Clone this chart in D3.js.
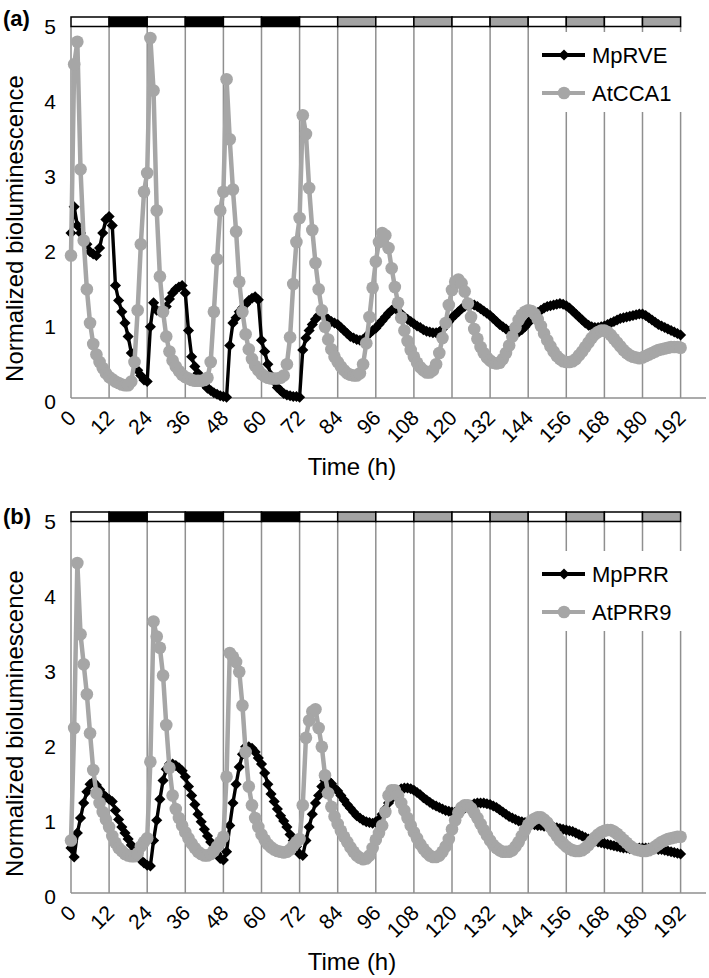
<!DOCTYPE html>
<html><head><meta charset="utf-8">
<script src="https://cdn.jsdelivr.net/npm/d3@7"></script>
<style>body{margin:0;background:#fff}svg{display:block;font-family:"Liberation Sans",Arial,Helvetica,sans-serif}</style>
</head><body>
<svg id="c" width="709" height="978"></svg>
<script>
// ---- data ----
const hours = d3.range(0, 193, 1);
const xTickValues = [0,12,24,36,48,60,72,84,96,108,120,132,144,156,168,180,192];
const yTickValues = [0,1,2,3,4,5];
const lightStarts = [0,12,24,36,48,60,72,84,96,108,120,132,144,156,168,180];
const lightKinds  = ["light","dark","light","dark","light","dark","light","subj","light","subj","light","subj","light","subj","light","subj"];

const mpRVE = [
2.20,2.55,2.30,2.20,2.10,2.05,1.95,1.92,1.90,2.00,2.20,2.38,2.42,2.30,1.50,1.30,1.15,1.00,0.82,0.60,
0.45,0.37,0.30,0.24,0.22,0.95,1.27,1.17,1.15,1.18,1.22,1.32,1.40,1.45,1.48,1.50,1.40,0.90,0.55,0.42,
0.33,0.24,0.18,0.13,0.10,0.07,0.05,0.03,0.02,0.01,0.70,1.00,1.07,1.15,1.20,1.25,1.30,1.33,1.35,1.31,
0.77,0.62,0.45,0.30,0.22,0.14,0.10,0.06,0.04,0.03,0.02,0.02,0.01,0.64,0.80,0.90,0.98,1.05,1.10,1.12,
1.08,1.05,1.02,1.00,0.98,0.94,0.90,0.86,0.82,0.80,0.78,0.77,0.78,0.82,0.86,0.90,0.93,0.98,1.03,1.08,
1.13,1.17,1.20,1.16,1.12,1.08,1.05,1.02,0.99,0.96,0.94,0.91,0.89,0.88,0.87,0.87,0.88,0.92,0.97,1.02,
1.07,1.11,1.15,1.19,1.22,1.24,1.25,1.24,1.22,1.19,1.16,1.13,1.10,1.06,1.02,0.98,0.95,0.92,0.89,0.87,
0.87,0.88,0.91,0.95,1.00,1.05,1.10,1.14,1.17,1.20,1.22,1.23,1.24,1.25,1.26,1.25,1.23,1.20,1.16,1.12,
1.08,1.04,1.00,0.97,0.95,0.94,0.94,0.95,0.96,0.98,1.00,1.02,1.04,1.06,1.07,1.08,1.09,1.10,1.11,1.12,
1.12,1.10,1.07,1.04,1.01,0.98,0.96,0.94,0.92,0.90,0.88,0.86,0.84];

const atCCA1 = [
1.90,4.45,4.75,3.05,2.10,1.45,1.00,0.72,0.58,0.48,0.40,0.33,0.28,0.25,0.22,0.20,0.18,0.17,0.17,0.22,
0.48,1.17,2.05,2.75,3.00,4.80,4.10,2.50,1.62,1.15,0.82,0.62,0.50,0.42,0.36,0.31,0.28,0.26,0.24,0.23,
0.23,0.23,0.24,0.27,0.48,1.15,1.85,2.50,2.75,4.25,3.45,2.78,2.22,1.55,1.15,0.85,0.65,0.52,0.43,0.37,
0.32,0.29,0.27,0.26,0.26,0.26,0.27,0.30,0.45,0.81,1.52,2.08,2.40,3.77,3.52,2.80,2.24,1.80,1.45,1.17,
0.95,0.78,0.65,0.55,0.48,0.42,0.37,0.33,0.31,0.30,0.30,0.33,0.45,0.73,1.08,1.47,1.82,2.08,2.20,2.17,
2.00,1.73,1.48,1.27,1.07,0.90,0.76,0.64,0.55,0.47,0.41,0.37,0.34,0.34,0.37,0.45,0.60,0.80,1.00,1.24,
1.44,1.55,1.58,1.53,1.42,1.26,1.08,0.92,0.79,0.68,0.60,0.54,0.50,0.47,0.46,0.47,0.52,0.60,0.70,0.82,
0.94,1.04,1.11,1.15,1.17,1.16,1.12,1.05,0.96,0.86,0.77,0.69,0.62,0.56,0.52,0.49,0.48,0.48,0.49,0.52,
0.57,0.62,0.68,0.74,0.80,0.85,0.88,0.90,0.90,0.88,0.84,0.79,0.74,0.69,0.64,0.60,0.57,0.55,0.54,0.53,
0.54,0.56,0.58,0.60,0.62,0.64,0.65,0.66,0.67,0.68,0.68,0.68,0.67];

const mpPRR = [
0.60,0.48,0.80,1.00,1.20,1.35,1.45,1.48,1.44,1.38,1.32,1.28,1.25,1.22,1.10,0.98,0.88,0.80,0.72,0.64,
0.57,0.50,0.44,0.40,0.37,0.36,0.70,0.97,1.25,1.50,1.65,1.72,1.72,1.70,1.67,1.63,1.55,1.42,1.30,1.18,
1.05,0.95,0.85,0.76,0.68,0.60,0.52,0.46,0.44,0.55,0.90,1.20,1.45,1.68,1.85,1.95,1.95,1.93,1.88,1.80,
1.72,1.60,1.45,1.32,1.22,1.12,1.03,0.96,0.88,0.78,0.70,0.62,0.52,0.50,0.70,0.88,1.05,1.20,1.30,1.42,
1.50,1.50,1.46,1.40,1.36,1.30,1.24,1.18,1.13,1.08,1.03,1.00,0.97,0.95,0.94,0.93,0.95,0.98,1.05,1.12,
1.20,1.26,1.32,1.36,1.39,1.40,1.40,1.39,1.37,1.34,1.31,1.27,1.24,1.21,1.18,1.16,1.14,1.12,1.10,1.09,
1.08,1.08,1.09,1.11,1.13,1.15,1.17,1.19,1.20,1.20,1.20,1.19,1.18,1.16,1.14,1.11,1.08,1.05,1.02,1.00,
0.98,0.96,0.95,0.94,0.93,0.92,0.91,0.90,0.90,0.89,0.89,0.88,0.88,0.87,0.86,0.85,0.84,0.83,0.82,0.80,
0.78,0.76,0.74,0.72,0.70,0.69,0.68,0.67,0.66,0.65,0.64,0.63,0.62,0.61,0.60,0.60,0.59,0.59,0.59,0.60,
0.60,0.60,0.60,0.60,0.59,0.58,0.58,0.57,0.56,0.55,0.54,0.53,0.52];

const atPRR9 = [
0.70,2.20,4.40,3.45,3.05,2.65,2.13,1.64,1.33,1.20,1.08,0.98,0.88,0.76,0.67,0.60,0.56,0.52,0.50,0.49,
0.49,0.53,0.62,0.68,0.73,1.75,3.62,3.42,3.27,2.90,2.24,1.67,1.30,1.12,1.00,0.90,0.81,0.73,0.66,0.60,
0.55,0.52,0.50,0.50,0.52,0.56,0.62,0.68,0.75,1.55,3.20,3.15,3.08,2.95,2.50,1.88,1.42,1.17,1.00,0.88,
0.78,0.71,0.65,0.61,0.58,0.56,0.55,0.54,0.55,0.58,0.63,0.68,0.72,1.17,2.07,2.30,2.42,2.45,2.20,1.95,
1.57,1.33,1.15,1.02,0.92,0.83,0.75,0.68,0.61,0.55,0.50,0.47,0.45,0.46,0.50,0.60,0.71,0.80,0.90,1.08,
1.30,1.37,1.37,1.30,1.20,1.10,1.00,0.90,0.81,0.73,0.65,0.59,0.54,0.50,0.48,0.48,0.50,0.55,0.62,0.72,
0.85,0.97,1.07,1.14,1.17,1.17,1.13,1.07,1.00,0.92,0.84,0.77,0.70,0.64,0.60,0.57,0.55,0.55,0.55,0.57,
0.62,0.68,0.76,0.84,0.91,0.96,0.99,1.01,1.01,0.98,0.94,0.88,0.82,0.76,0.70,0.66,0.62,0.59,0.57,0.56,
0.56,0.57,0.60,0.64,0.69,0.74,0.78,0.81,0.83,0.84,0.84,0.82,0.79,0.75,0.71,0.67,0.63,0.60,0.58,0.57,
0.56,0.56,0.57,0.59,0.62,0.65,0.68,0.70,0.72,0.73,0.74,0.75,0.75];

// ---- layout / style ----
const BLACK = "#000000", GREY = "#a6a6a6", GRID = "#8f8f8f";
const fillFor = {light:"#ffffff", dark:"#000000", subj:"#a3a3a3"};
const panels = [
  {tag:"(a)", tagDy:-5, top:23, bottom:398, s1:{name:"MpRVE", v:mpRVE}, s2:{name:"AtCCA1", v:atCCA1}, legTop:32, legH:80},
  {tag:"(b)", tagDy:-2, top:518, bottom:893, s1:{name:"MpPRR", v:mpPRR}, s2:{name:"AtPRR9", v:atPRR9}, legTop:551, legH:80}
];
const X0 = 71, X1 = 706;
const x = d3.scaleLinear().domain([0,200]).range([X0, X1]);
const svg = d3.select("#c");

panels.forEach(p => {
  const y = d3.scaleLinear().domain([0,5]).range([p.bottom, p.top]);
  const g = svg.append("g");
  const barTop = y(5) - 6, barH = 9.5, barBot = barTop + barH;

  // vertical gridlines
  g.selectAll(".grid").data(xTickValues).join("line")
    .attr("x1", d => x(d)).attr("x2", d => x(d))
    .attr("y1", barBot).attr("y2", y(0))
    .attr("stroke", GRID).attr("stroke-width", 1.5);
  // x axis line
  g.append("line").attr("x1", X0).attr("x2", X1).attr("y1", y(0)).attr("y2", y(0))
    .attr("stroke", GRID).attr("stroke-width", 1.5);

  // y tick labels
  g.selectAll(".yt").data(yTickValues).join("text")
    .attr("x", 56).attr("y", d => y(d) + 3)
    .attr("text-anchor", "end").attr("dominant-baseline", "central")
    .attr("font-size", 21).text(d => d);

  // x tick labels (rotated)
  g.selectAll(".xt").data(xTickValues).join("text")
    .attr("transform", d => `translate(${x(d)+1},${y(0)+16}) rotate(-45)`)
    .attr("text-anchor", "end").attr("dominant-baseline", "central")
    .attr("font-size", 21).text(d => d);

  // light/dark bar
  g.selectAll(".bar").data(lightStarts).join("rect")
    .attr("x", d => x(d)).attr("width", d => x(d+12) - x(d))
    .attr("y", barTop).attr("height", barH)
    .attr("fill", (d,i) => fillFor[lightKinds[i]])
    .attr("stroke", BLACK).attr("stroke-width", 1.5);

  // series
  const line = d3.line().x((d,i) => x(hours[i])).y(d => y(d));
  const diamond = d3.symbol(d3.symbolSquare, 62);
  g.append("path").datum(p.s1.v).attr("d", line).attr("fill","none")
    .attr("stroke", BLACK).attr("stroke-width", 3.4).attr("stroke-linejoin","round");
  g.selectAll(".m1").data(p.s1.v).join("path")
    .attr("d", diamond)
    .attr("transform", (d,i) => `translate(${x(hours[i])},${y(d)}) rotate(45)`)
    .attr("fill", BLACK);
  g.append("path").datum(p.s2.v).attr("d", line).attr("fill","none")
    .attr("stroke", GREY).attr("stroke-width", 4.5).attr("stroke-linejoin","round");
  g.selectAll(".m2").data(p.s2.v).join("circle")
    .attr("cx", (d,i) => x(hours[i])).attr("cy", d => y(d)).attr("r", 6.3)
    .attr("fill", GREY);

  // legend
  const L = g.append("g");
  L.append("rect").attr("x", 537).attr("y", p.legTop).attr("width", 148).attr("height", p.legH).attr("fill", "#fff");
  [[p.s1, BLACK, "d"], [p.s2, GREY, "c"]].forEach(([s, col, m], k) => {
    const cy = p.legTop + 23 + k*38;
    L.append("line").attr("x1", 542).attr("x2", 585).attr("y1", cy).attr("y2", cy)
      .attr("stroke", col).attr("stroke-width", 4);
    if (m === "d") L.append("path").attr("d", diamond).attr("transform", `translate(564,${cy}) rotate(45)`).attr("fill", col);
    else L.append("circle").attr("cx", 564).attr("cy", cy).attr("r", 6.3).attr("fill", col);
    L.append("text").attr("x", 592).attr("y", cy).attr("dominant-baseline","central")
      .attr("font-size", 22).text(s.name);
  });

  // titles
  g.append("text").attr("transform", `translate(23,${(p.top+p.bottom)/2 + 18}) rotate(-90)`)
    .attr("text-anchor","middle").attr("font-size", 24).text("Normalized bioluminescence");
  g.append("text").attr("x", 352).attr("y", p.bottom + 77).attr("text-anchor","middle")
    .attr("font-size", 24).text("Time (h)");
  g.append("text").attr("x", 3).attr("y", p.top + p.tagDy).attr("font-weight","bold")
    .attr("font-size", 22).attr("dominant-baseline","central").text(p.tag);
});
</script>
</body></html>
